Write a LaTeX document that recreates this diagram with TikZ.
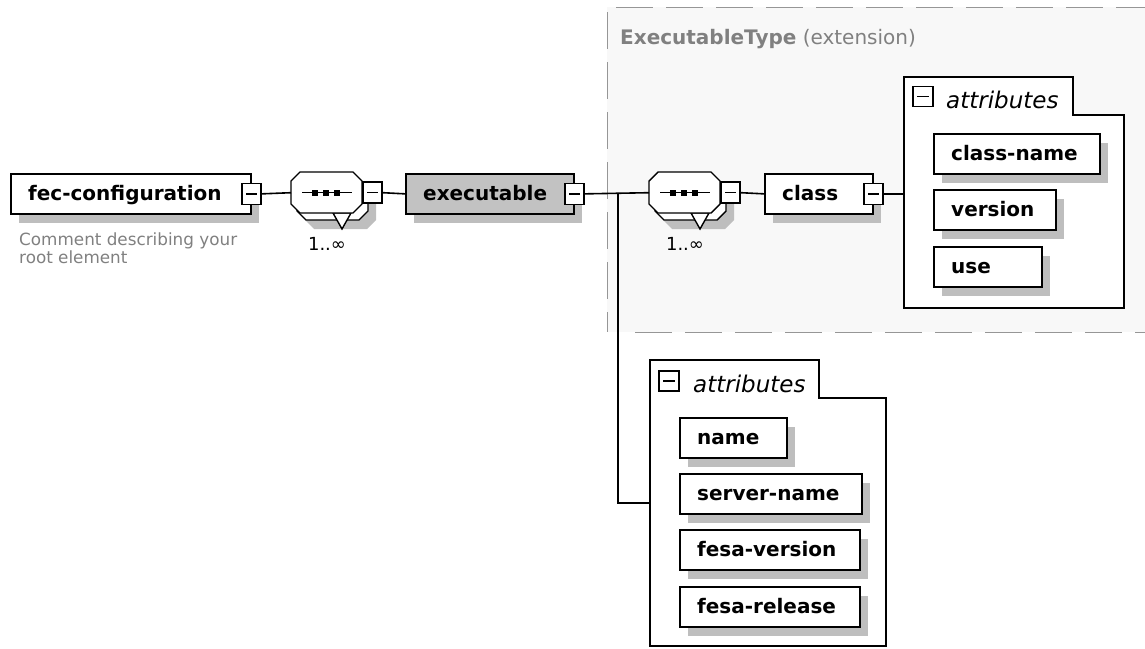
\documentclass[tikz,border=0pt]{standalone}
\usepackage{fontspec}
\setmainfont{DejaVu Sans}
\usetikzlibrary{shadows,calc}
\definecolor{shadowgray}{RGB}{190,190,190}
\definecolor{execgray}{RGB}{194,194,194}
\definecolor{typebg}{RGB}{248,248,248}
\definecolor{dashgray}{RGB}{150,150,150}
\definecolor{textgray}{RGB}{128,128,128}
\newcommand{\drawseqcomp}[3]{%
  \begin{scope}[shift={(#2,#3)}]
    \fill[shadowgray] (23,16) -- (76,16) -- (85,25) -- (85,48) -- (76,57) -- (23,57) -- (14,48) -- (14,25) -- cycle;
    \draw[octline, fill=white] (15,7) -- (68,7) -- (77,16) -- (77,39) -- (68,48) -- (15,48) -- (6,39) -- (6,16) -- cycle;
    \draw[octline, fill=white] (42,41) -- (60,41) -- (51,57) -- cycle;
    \draw[octline, fill=white] (9,0) -- (62,0) -- (71,9) -- (71,32) -- (62,41) -- (9,41) -- (0,32) -- (0,9) -- cycle;
    \draw[octline] (11,20.5) -- (61,20.5);
    \fill (21,17.5) rectangle (27,23.5);
    \fill (32,17.5) rectangle (38,23.5);
    \fill (43,17.5) rectangle (49,23.5);
    \node[minimum width=71pt, minimum height=41pt, inner sep=0pt, anchor=north west] (#1) at (0,0) {};
    \node[multtext] (#1m) at (36,78) {1..∞};
  \end{scope}
  \node[minsq, anchor=west] (#1sq) at (#1.east) {};
}
\begin{document}
\begin{tikzpicture}[x=1pt,y=-1pt,
  elbox/.style={draw=black, line width=1.7pt, fill=white, rectangle, inner sep=0pt,
    anchor=north west, minimum height=40pt,
    drop shadow={shadow xshift=8pt, shadow yshift=-9pt, fill=shadowgray, opacity=1}},
  eltext/.style={anchor=base west, inner sep=0pt, font=\fontsize{20}{24}\selectfont\bfseries},
  minsq/.style={draw=black, line width=1.5pt, fill=white, rectangle, inner sep=0pt,
    minimum width=19pt, minimum height=21pt,
    path picture={\draw[line width=1.5pt] ([xshift=4pt]path picture bounding box.west) -- ([xshift=-4pt]path picture bounding box.east);}},
  octline/.style={line width=1.4pt},
  conn/.style={line width=1.6pt},
  multtext/.style={anchor=base, inner sep=0pt, font=\fontsize{18}{20}\selectfont},
  contline/.style={line width=1.5pt, fill=white},
  attrlabel/.style={anchor=base west, inner sep=0pt, font=\fontsize{23}{26}\selectfont\itshape},
  typedash/.style={dashgray, line width=0.8pt, dash pattern=on 37pt off 13pt}
]
\useasboundingbox (0,0) rectangle (1145,648);

% type extension area
\fill[typebg] (607,7) rectangle (1160,332);
\draw[typedash] (616,7) -- (1160,7);
\draw[typedash] (607,12) -- (607,332);
\draw[typedash] (635,332) -- (1160,332);
\node[anchor=base west, inner sep=0pt, text=textgray, font=\fontsize{20}{24}\selectfont] (typelabel) at (620,44) {\textbf{ExecutableType} (extension)};

% root element
\node[elbox, minimum width=240pt] (fec) at (10,173) {};
\node[eltext] (fecT) at ($(fec.north west)+(18,27)$) {fec-configuration};
\node[minsq] (fecsq) at (fec.east) {};
\node[anchor=north west, inner sep=0pt, align=left, text=textgray, font=\fontsize{16.8}{18.5}\selectfont] (comment) at (19,232.5) {Comment describing your\\root element};

% sequence 1
\drawseqcomp{seqA}{291}{172}

% executable
\node[elbox, fill=execgray, minimum width=168pt] (exe) at (405,173) {};
\node[eltext] (exeT) at ($(exe.north west)+(18,27)$) {executable};
\node[minsq] (exesq) at (exe.east) {};

% sequence 2
\drawseqcomp{seqB}{649}{172}

% class
\node[elbox, minimum width=108pt] (cls) at (764,173) {};
\node[eltext] (clsT) at ($(cls.north west)+(18,27)$) {class};
\node[minsq] (clssq) at (cls.east) {};

% attributes of class
\node[minimum width=220pt, minimum height=231pt, inner sep=0pt, anchor=north west] (attrA) at (904,77) {};
\draw[contline] (904,77) -- (1073,77) -- (1073,115) -- (1124,115) -- (1124,308) -- (904,308) -- cycle;
\node[minsq, minimum width=20pt, minimum height=20pt, line width=1.3pt] (attrAicon) at (923,96.5) {};
\node[attrlabel] (attrAlbl) at (946,108) {attributes};
\node[elbox, minimum width=166pt] (clsname) at (933,133) {};
\node[eltext] (clsnameT) at ($(clsname.north west)+(18,27)$) {class-name};
\node[elbox, minimum width=122pt] (version) at (933,189) {};
\node[eltext] (versionT) at ($(version.north west)+(18,27)$) {version};
\node[elbox, minimum width=108pt] (use) at (933,246) {};
\node[eltext] (useT) at ($(use.north west)+(18,27)$) {use};

% attributes of executable
\node[minimum width=236pt, minimum height=286pt, inner sep=0pt, anchor=north west] (attrB) at (650,360) {};
\draw[contline] (650,360) -- (819,360) -- (819,398) -- (886,398) -- (886,646) -- (650,646) -- cycle;
\node[minsq, minimum width=20pt, minimum height=20pt, line width=1.3pt] (attrBicon) at (669,381) {};
\node[attrlabel] (attrBlbl) at (693,392) {attributes};
\node[elbox, minimum width=107pt] (name) at (679,417) {};
\node[eltext] (nameT) at ($(name.north west)+(18,27)$) {name};
\node[elbox, minimum width=182pt] (server) at (679,473) {};
\node[eltext] (serverT) at ($(server.north west)+(18,27)$) {server-name};
\node[elbox, minimum width=180pt] (fver) at (679,529) {};
\node[eltext] (fverT) at ($(fver.north west)+(18,27)$) {fesa-version};
\node[elbox, minimum width=180pt] (frel) at (679,586) {};
\node[eltext] (frelT) at ($(frel.north west)+(18,27)$) {fesa-release};

% connectors
\coordinate (fork) at (618,193);
\draw[conn] (fecsq.east) -- (seqA.west);
\draw[conn] (seqAsq.east) -- (exe.west);
\draw[conn] (exesq.east) -- (seqB.west);
\draw[conn] (seqBsq.east) -- (cls.west);
\draw[conn] (clssq.east) -- (clssq.east -| attrA.west);
\draw[conn] (fork) |- (attrB.west);
\end{tikzpicture}
\end{document}
